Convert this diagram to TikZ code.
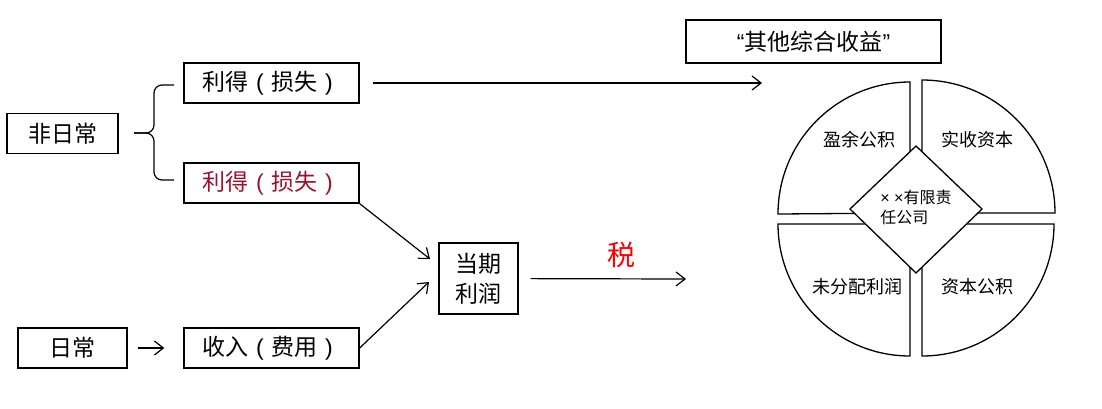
\documentclass[tikz,border=0pt]{standalone}
\usepackage{fontspec}
\setmainfont{Noto Sans CJK SC}
\newfontfamily\latinf{Liberation Sans}
\usetikzlibrary{shapes,calc,arrows.meta}
\definecolor{gainred}{HTML}{A0102C}
\newcommand{\opar}{\makebox[1em]{\latinf (}}
\newcommand{\cpar}{\makebox[1em]{\latinf )}}

\begin{document}
\begin{tikzpicture}[x=1pt,y=-1pt,>={Straight Barb[length=9pt,width=14pt]},line width=1.2pt,
  box/.style={draw,line width=1.3pt,font=\fontsize{23}{30}\selectfont,minimum height=40pt,inner sep=0pt},
  part/.style={draw,line width=1.3pt,fill=white},
  lbl/.style={font=\fontsize{18}{22}\selectfont}]
\useasboundingbox (0,0) rectangle (1102,408);

\node[box,minimum width=111pt] (N0) at (62.5,133.5) {非日常};
\node[box,minimum width=175pt] (N1) at (271.5,83) {利得\opar 损失\cpar};
\node[box,minimum width=175pt,text=gainred] (N2) at (271.5,183) {利得\opar 损失\cpar};
\node[box,minimum width=109pt] (N3) at (72.5,348) {日常};
\node[box,minimum width=175pt] (N4) at (271.5,348) {收入\opar 费用\cpar};
\node[box,minimum width=79pt,minimum height=71pt,align=center] (N5) at (478.5,278.5) {当期\\利润};
\node[box,minimum width=255pt,minimum height=43pt] (N6) at (813.5,41.5) {{\latinf“}其他综合收益{\latinf”}};
\node[text=red,font=\fontsize{28}{32}\selectfont] (N7) at (621,255) {税};

\coordinate (E1) at (762,83);
\coordinate (E2) at (430,259);
\coordinate (E3) at (429,282);
\coordinate (E4) at (686,279);
\coordinate (Bu) at (174,85);
\coordinate (Bl) at (174,180);
\coordinate (Bt) at (134,133);

% brace
\draw[rounded corners=8pt] (Bu) -- (154,85) -- (154,133) -- (Bt);
\draw[rounded corners=8pt] (Bl) -- (154,180) -- (154,133) -- (Bt);

\path[->] (N1) edge[shorten <=13pt] (E1);
\path[->] (N2.south east) edge (E2) (N4.east) edge (E3);
\path[->] (N3) edge[shorten <=10pt,shorten >=19pt] (N4);
\path[->] (N5) edge[shorten <=12pt] (E4);

% company circle
\draw[part] (910,213) -- (910,82) arc[start angle=90,end angle=180,radius=132pt] -- cycle;
\draw[part] (922,213) -- (1055,213) arc[start angle=0,end angle=90,radius=133pt] -- cycle;
\draw[part] (910,224) -- (778,224) arc[start angle=180,end angle=270,radius=132pt] -- cycle;
\draw[part] (922,224) -- (922,356) arc[start angle=270,end angle=360,radius=132pt] -- cycle;
\draw[part] (916,146) -- (982,209) -- (916,273) -- (850,209) -- cycle;

\node[lbl] (Q1) at (859,140) {盈余公积};
\node[lbl] (Q2) at (977,140) {实收资本};
\node[lbl] (Q3) at (857,287) {未分配利润};
\node[lbl] (Q4) at (977,287) {资本公积};
\node[font=\fontsize{16}{20}\selectfont,align=left] (C) at (916,207) {{\latinf × ×}有限责\\任公司};
\end{tikzpicture}
\end{document}
